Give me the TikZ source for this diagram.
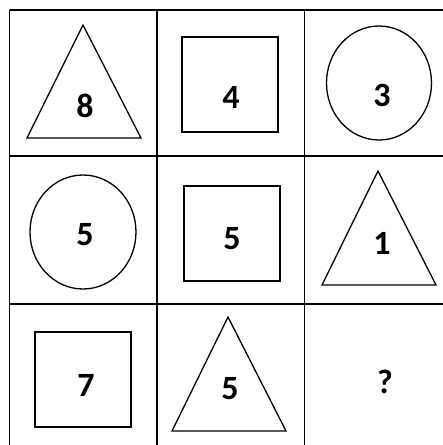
\documentclass[tikz,border=0pt]{standalone}
\usepackage{fontspec}
\setmainfont{Carlito}
\usetikzlibrary{positioning}

\begin{document}
\begin{tikzpicture}[x=1pt, y=-1pt,
  gridline/.style={line width=1.7pt, black},
  figure/.style={line width=1.3pt, black, line join=miter},
  num/.style={inner sep=0pt, font=\fontsize{34}{34}\selectfont\bfseries},
]
  \useasboundingbox (0,0) rectangle (443,445);
  % grid
  \draw[gridline] (9.5,10) -- (443,10) (9.5,156) -- (443,156) (9.5,304) -- (443,304);
  \draw[gridline] (9.5,10) -- (9.5,445) (157,10) -- (157,445) (304.5,10) -- (304.5,445);
  % first row
  \draw[figure] (83,25) -- (141,138) -- (27,138) -- cycle;
  \node[num] (t8) at (85,106) {8};
  \draw[figure] (182,37) rectangle (278,132);
  \node[num] (s4) at (231,97) {4};
  \draw[figure] (379,83) ellipse [x radius=52.5, y radius=57];
  \node[num] (c3) at (382,95) {3};
  % second row
  \draw[figure] (83,232) ellipse [x radius=53, y radius=57];
  \node[num] (c5) at (85,235) {5};
  \draw[figure] (184,186) rectangle (280,281);
  \node[num] (s5) at (232,239) {5};
  \draw[figure] (378,171) -- (436,285) -- (322,285) -- cycle;
  \node[num] (t1) at (382,243) {1};
  % third row
  \draw[figure] (35,332) rectangle (131,427);
  \node[num] (s7) at (86,385) {7};
  \draw[figure] (228,317) -- (286,431) -- (172,431) -- cycle;
  \node[num] (t5) at (230,389) {5};
  \node[num] (q) at (385,382) {?};
\end{tikzpicture}
\end{document}
